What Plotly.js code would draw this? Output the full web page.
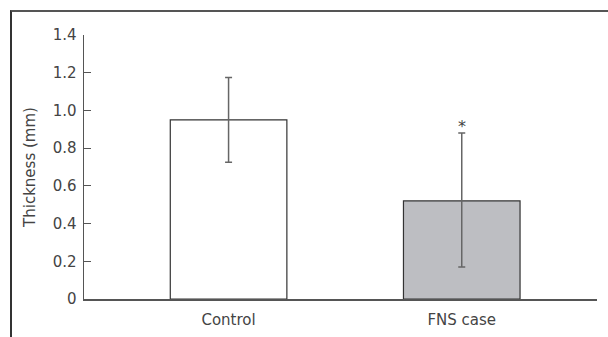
<!DOCTYPE html>
<html>
<head>
<meta charset="utf-8">
<script src="https://cdn.plot.ly/plotly-3.0.1.min.js"></script>
<style>
html,body{margin:0;padding:0;background:#fff;}
#frame{position:absolute;left:10px;top:10px;width:598px;height:327px;border-top:2px solid #555;border-left:2px solid #333;box-sizing:border-box;}
#chart{position:absolute;left:0;top:0;width:608px;height:337px;}
</style>
</head>
<body>
<div id="frame"></div>
<div id="chart"></div>
<script>
const categories = ["Control", "FNS case"];
const means = [0.95, 0.52];
const errPlus = [0.225, 0.36];
const errMinus = [0.225, 0.35];
const barColors = ["#ffffff", "#bdbec2"];
const yTickVals = [0, 0.2, 0.4, 0.6, 0.8, 1.0, 1.2, 1.4];
const yTickText = ["0", "0.2", "0.4", "0.6", "0.8", "1.0", "1.2", "1.4"];
const sigLabels = ["", "*"];

const font = {family: "DejaVu Sans, sans-serif", size: 15, color: "#444"};

const trace = {
  type: "bar",
  x: categories,
  y: means,
  width: 0.5,
  marker: {color: barColors, line: {color: "#333", width: 1.2}},
  error_y: {type: "data", symmetric: false, array: errPlus, arrayminus: errMinus,
            color: "#666", thickness: 1.5, width: 3.5},
  hoverinfo: "skip"
};

const annotations = [];
categories.forEach((c, i) => {
  if (sigLabels[i]) {
    annotations.push({x: c, y: means[i] + errPlus[i], xref: "x", yref: "y",
      text: sigLabels[i], showarrow: false, yanchor: "bottom", yshift: -5,
      font: {family: font.family, size: 16, color: "#444"}});
  }
});

const layout = {
  width: 608, height: 337,
  margin: {l: 84, r: 11, t: 35, b: 37.5, pad: 0},
  paper_bgcolor: "rgba(0,0,0,0)", plot_bgcolor: "rgba(0,0,0,0)",
  font: font,
  showlegend: false,
  xaxis: {
    range: [-0.62, 1.58], showgrid: false, zeroline: false,
    showline: true, linecolor: "#555", linewidth: 1.5,
    ticks: "outside", ticklen: 6, tickcolor: "rgba(0,0,0,0)",
    tickfont: font, fixedrange: true
  },
  yaxis: {
    range: [0, 1.4], showgrid: false, zeroline: false,
    showline: true, linecolor: "#555", linewidth: 1.5,
    ticks: "inside", ticklen: 7, tickwidth: 1.2, tickcolor: "#555",
    tickvals: yTickVals, ticktext: yTickText, tickfont: font,
    ticklabelstandoff: 3,
    title: {text: "Thickness (mm)", font: font, standoff: 13},
    fixedrange: true
  },
  annotations: annotations
};

Plotly.newPlot("chart", [trace], layout, {displayModeBar: false, staticPlot: true});
</script>
</body>
</html>
